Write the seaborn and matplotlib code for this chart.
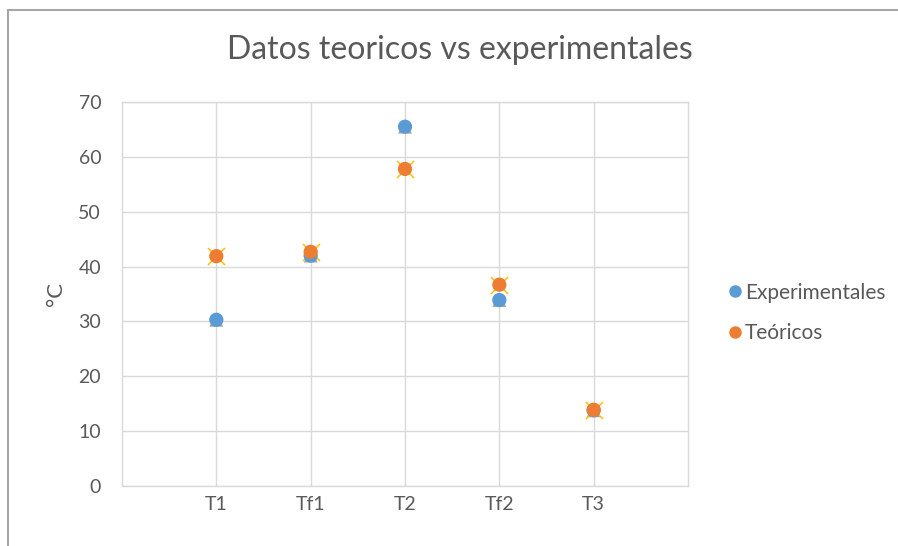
import matplotlib
matplotlib.use("Agg")
import matplotlib.pyplot as plt
import seaborn as sns
import pandas as pd
from matplotlib.lines import Line2D

categories = ["T1", "Tf1", "T2", "Tf2", "T3"]
experimentales = [30.3, 42.0, 65.5, 33.9, 13.8]
teoricos = [41.9, 42.7, 57.8, 36.7, 13.9]
yticks = [0, 10, 20, 30, 40, 50, 60, 70]

sns.set_theme(style="white")
plt.rcParams['font.family'] = ['Lato', 'DejaVu Sans']

fig = plt.figure(figsize=(8.98, 5.46), dpi=100)
ax = fig.add_axes([122/898, 1-486/546, (688-122)/898, (486-102)/546])

df_exp = pd.DataFrame({"cat": categories, "val": experimentales})
df_teo = pd.DataFrame({"cat": categories, "val": teoricos})

# hidden duplicates behind markers (as in the reference)
sns.scatterplot(data=df_exp, x="cat", y="val", ax=ax, marker="^", s=100,
                color="#A5A5A5", edgecolor="none", legend=False, zorder=3)
sns.scatterplot(data=df_teo, x="cat", y="val", ax=ax, marker="x", s=150,
                color="#FFC000", linewidth=1.1, legend=False, zorder=3)
sns.scatterplot(data=df_exp, x="cat", y="val", ax=ax, marker="o", s=105,
                color="#5B9BD5", edgecolor="none", legend=False, zorder=4)
sns.scatterplot(data=df_teo, x="cat", y="val", ax=ax, marker="o", s=105,
                color="#ED7D31", edgecolor="none", legend=False, zorder=5)

ax.set_xlim(-1, 5)
ax.set_ylim(0, 70)
ax.set_yticks(yticks)
ax.set_xticks(range(len(categories)))
ax.set_xticklabels(categories)
ax.grid(True, color="#D9D9D9", linewidth=1.0)
ax.set_axisbelow(True)
for s in ax.spines.values():
    s.set_color("#D9D9D9")
    s.set_linewidth(1.0)
ax.tick_params(axis="both", length=0, labelsize=14, colors="#595959")
ax.tick_params(axis="y", pad=15)
ax.tick_params(axis="x", pad=7)
ax.set_xlabel("")
ax.set_ylabel("°C", fontsize=16, color="#595959", labelpad=9)

fig.suptitle("Datos teoricos vs experimentales", x=460/898, y=1-50/546, va="center",
             fontsize=23, color="#595959")

handles = [
    Line2D([0], [0], marker="o", linestyle="none", markersize=9,
           markerfacecolor="#5B9BD5", markeredgecolor="none", label="Experimentales"),
    Line2D([0], [0], marker="o", linestyle="none", markersize=9,
           markerfacecolor="#ED7D31", markeredgecolor="none", label="Teóricos"),
]
leg = fig.legend(handles=handles, loc="center left", bbox_to_anchor=(720/898, 1-313/546),
                 frameon=False, fontsize=15, handlelength=0.6, handletextpad=0.2,
                 labelspacing=1.0, borderaxespad=0)
for t in leg.get_texts():
    t.set_color("#595959")

# outer chart border (top and left visible)
fig.add_artist(Line2D([8/898, 1], [1-10/546, 1-10/546], color="#A6A6A6", linewidth=1.5,
                      transform=fig.transFigure))
fig.add_artist(Line2D([8/898, 8/898], [0, 1-10/546], color="#A6A6A6", linewidth=1.5,
                      transform=fig.transFigure))

fig.savefig("out.png", dpi=100)
